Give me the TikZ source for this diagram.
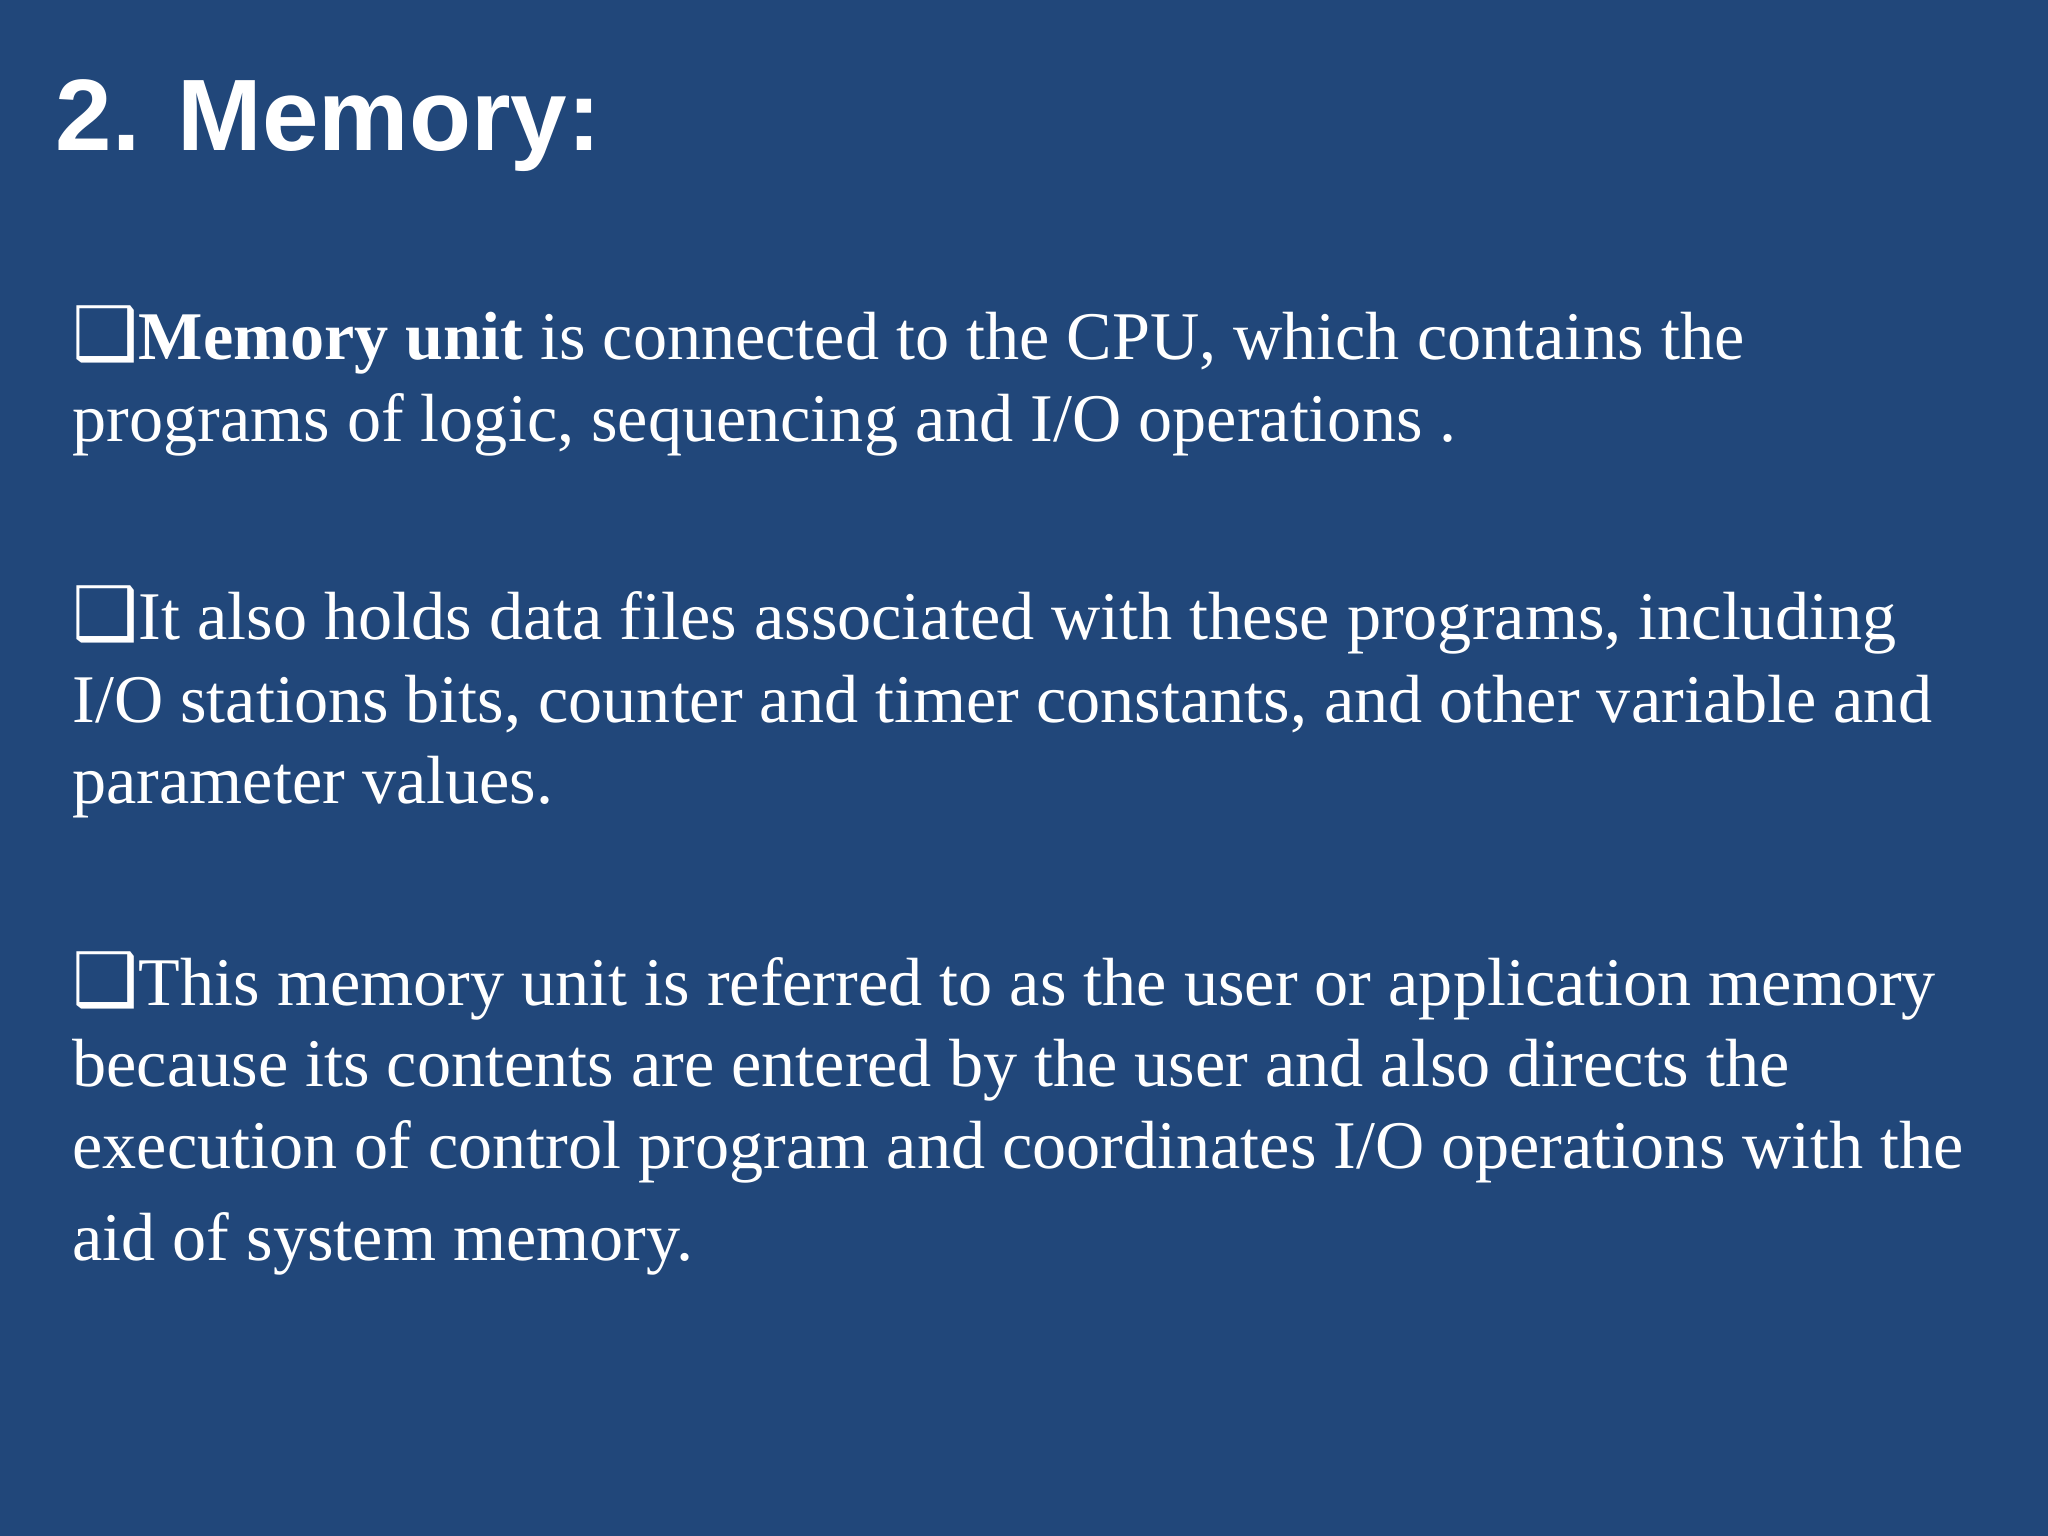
\documentclass[tikz,border=0pt]{standalone}
\usepackage{fontspec}
\setmainfont{Liberation Serif}
\newfontfamily\titlefont{Liberation Sans}
\newfontfamily\symfont{DejaVu Sans}
\definecolor{bg}{HTML}{21477A}
\tikzset{ln/.style={anchor=base west,inner sep=0pt,text=white,font=\fontsize{19.4}{23}\selectfont}}
\newcommand{\bx}{{\symfont\fontsize{21}{24}\selectfont ❑}}
\begin{document}
\begin{tikzpicture}
\fill[bg] (0,0) rectangle (20.48,-15.36);
\useasboundingbox (0,0) rectangle (20.48,-15.36);
\node[anchor=base west,inner sep=0pt,text=white,font=\titlefont\bfseries\fontsize{28.9}{34}\selectfont] (t) at (0.549,-1.502) {2. Memory:};
\node[ln] (a1) at (0.72,-3.592) {\bx\textbf{Memory unit} is connected to the CPU, which contains the};
\node[ln] (a2) at (0.718,-4.414) {programs of logic, sequencing and I/O operations .};
\node[ln] (b1) at (0.72,-6.399) {\bx It also holds data files associated with these programs, including};
\node[ln] (b2) at (0.718,-7.222) {I/O stations bits, counter and timer constants, and other variable and};
\node[ln] (b3) at (0.718,-8.032) {parameter values.};
\node[ln] (c1) at (0.72,-10.056) {\bx This memory unit is referred to as the user or application memory};
\node[ln] (c2) at (0.718,-10.866) {because its contents are entered by the user and also directs the};
\node[ln] (c3) at (0.718,-11.689) {execution of control program and coordinates I/O operations with the};
\node[ln] (c4) at (0.718,-12.603) {aid of system memory.};
\end{tikzpicture}
\end{document}
